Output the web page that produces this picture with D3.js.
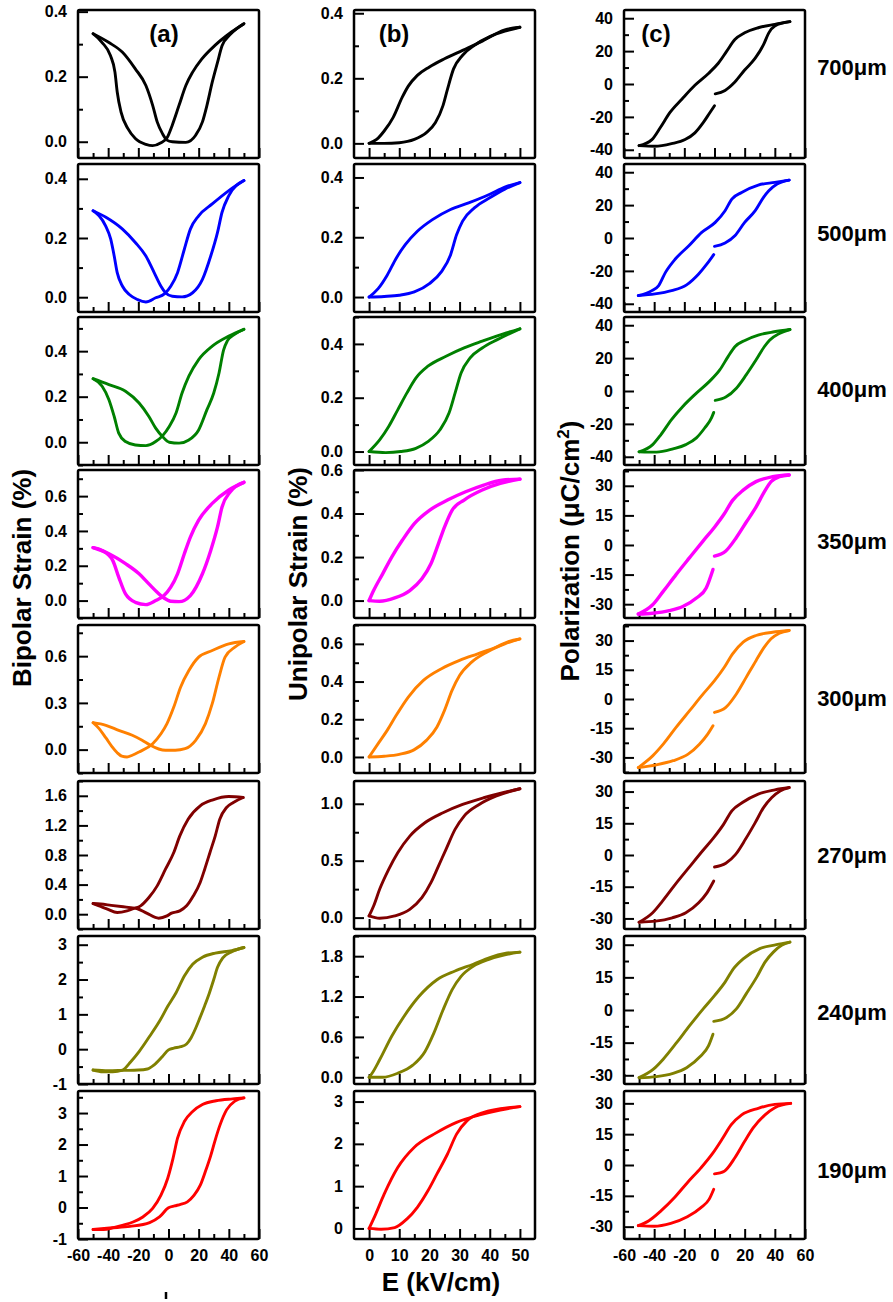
<!DOCTYPE html>
<html>
<head>
<meta charset="utf-8">
<script src="https://cdn.jsdelivr.net/npm/d3@7"></script>
<style>
  body { margin: 0; background: #fff; }
  text { font-family: Arial, "Liberation Sans", sans-serif; font-weight: bold; fill: #000; }
</style>
</head>
<body>
<div id="chart"></div>
<script>
// Sample thickness for each row and its colour
const thicknesses = ['700μm', '500μm', '400μm', '350μm', '300μm', '270μm', '240μm', '190μm'];
const colors = ['#000000', '#0000ff', '#008000', '#ff00ff', '#ff8000', '#800000', '#808000', '#ff0000'];

// Field tick labels (kV/cm)
const bipolarETicks = [-60, -40, -20, 0, 20, 40, 60];
const unipolarETicks = [0, 10, 20, 30, 40, 50];

// Y ranges and label steps, one per row
const bipolarRanges = [[-0.05, 0.405], [-0.05, 0.45], [-0.1, 0.55], [-0.1, 0.75], [-0.15, 0.8], [-0.2, 1.8], [-1, 3.25], [-1, 3.7]];
const bipolarSteps = [0.2, 0.2, 0.2, 0.2, 0.3, 0.4, 1, 1];
const unipolarRanges = [[-0.045, 0.41], [-0.05, 0.445], [-0.05, 0.5], [-0.08, 0.6], [-0.085, 0.7], [-0.1, 1.2], [-0.1, 2.1], [-0.25, 3.25]];
const unipolarSteps = [0.2, 0.2, 0.2, 0.2, 0.2, 0.5, 0.6, 1];
const polarRanges = [[-45, 45], [-45, 45], [-45, 45], [-37, 38], [-38, 38], [-35, 35], [-34, 34], [-36, 36]];
const polarSteps = [20, 20, 20, 15, 15, 15, 15, 15];

// (a) bipolar strain loops [E, strain %]: +50 -> -50 -> +50
const bipolar700 = [[50,0.363],[42,0.338],[31,0.297],[22,0.254],[16,0.214],[11.5,0.173],[7,0.112],[2.5,0.051],[-1,0.012],[-5,-0.003],[-10.5,-0.012],[-15,-0.008],[-22,0.01],[-27,0.041],[-31.5,0.092],[-34,0.153],[-35.5,0.214],[-38.5,0.265],[-44,0.305],[-50,0.332],
  [-39.5,0.305],[-30.5,0.275],[-22,0.224],[-15,0.173],[-10.5,0.112],[-7.5,0.061],[-4,0.025],[-1,0.005],[2.5,0],[11.5,-0.002],[18,0.02],[22.5,0.061],[25.5,0.112],[29,0.183],[32.5,0.244],[35.5,0.295],[41,0.33],[50,0.363]];
const bipolar500 = [[50,0.394],[40,0.36],[29,0.315],[20,0.275],[14.5,0.23],[10.5,0.162],[6,0.083],[1.5,0.037],[-2.5,0.012],[-8.5,-0.002],[-15,-0.016],[-20.5,-0.008],[-26,0.009],[-30.5,0.037],[-34,0.083],[-36,0.139],[-38.3,0.196],[-41.7,0.241],[-46,0.275],[-50,0.292],
  [-41.5,0.27],[-30.5,0.23],[-22,0.185],[-15,0.139],[-9.5,0.083],[-5,0.037],[-2,0.015],[2.5,0.003],[9,0.001],[16,0.015],[22.5,0.06],[28,0.139],[32.5,0.219],[35.5,0.287],[40,0.343],[50,0.394]];
const bipolar400 = [[50,0.496],[40,0.466],[29,0.422],[20,0.363],[13.5,0.29],[9,0.216],[5,0.128],[0.5,0.069],[-4,0.028],[-8.5,0.003],[-15,-0.015],[-22,-0.012],[-28.5,0.003],[-33,0.04],[-36,0.113],[-39.5,0.187],[-44,0.246],[-50,0.279],
  [-39.5,0.253],[-28.5,0.224],[-19.5,0.172],[-13,0.113],[-8.5,0.062],[-4,0.025],[0.5,0],[7,-0.004],[13.5,0.01],[20,0.054],[25.5,0.143],[30,0.216],[33.5,0.304],[36.5,0.405],[39,0.445],[43,0.47],[50,0.496]];
const bipolar350 = [[50,0.679],[40,0.635],[29,0.558],[20,0.462],[14.5,0.365],[10.5,0.269],[6,0.154],[1.5,0.077],[-3,0.029],[-8.5,0],[-15,-0.023],[-22,-0.01],[-28.5,0.038],[-33,0.135],[-37,0.231],[-44,0.288],[-50,0.304],
  [-39.5,0.269],[-28.5,0.212],[-19.5,0.154],[-13,0.096],[-7.5,0.048],[-3,0.015],[1.5,-0.004],[7,-0.006],[14.5,0.029],[22.5,0.154],[28,0.288],[32.5,0.423],[35.5,0.538],[41,0.625],[50,0.679]];
const bipolar300 = [[50,0.694],[40,0.679],[29,0.636],[20,0.594],[13.5,0.508],[8,0.401],[3.5,0.273],[-1,0.167],[-5,0.102],[-10.5,0.038],[-19.5,-0.015],[-24,-0.036],[-27.5,-0.047],[-31,-0.042],[-34,-0.02],[-37.5,0.02],[-41.5,0.075],[-46,0.135],[-50,0.173],
  [-41.5,0.156],[-33,0.124],[-24,0.092],[-17.5,0.06],[-12,0.028],[-6.5,0.004],[-2,-0.004],[4.5,-0.004],[11,0.006],[18,0.06],[24.5,0.167],[29,0.295],[33.5,0.466],[37.5,0.594],[44,0.658],[50,0.694]];
const bipolar270 = [[49.5,1.577],[40,1.59],[29.5,1.546],[21,1.465],[13,1.284],[7.5,1.059],[3.5,0.834],[-2,0.608],[-7.5,0.383],[-13,0.225],[-18.5,0.113],[-23,0.077],[-27.5,0.045],[-34,0.023],[-40.5,0.068],[-46,0.113],[-50,0.144],
  [-45,0.138],[-38,0.12],[-30,0.1],[-25,0.088],[-21,0.077],[-14.5,0.014],[-6.5,-0.054],[-1,-0.023],[2,0.014],[7.5,0.045],[12,0.113],[16.5,0.248],[21,0.428],[24,0.608],[27.5,0.834],[31,1.059],[34,1.284],[38.5,1.442],[43,1.51],[49.5,1.577]];
const bipolar240 = [[50,2.92],[42,2.83],[31,2.76],[22.5,2.64],[16,2.44],[10.5,2.1],[5,1.62],[-0.5,1.23],[-6,0.8],[-12.5,0.37],[-19.5,-0.07],[-25,-0.36],[-30.5,-0.6],[-37,-0.65],[-43.5,-0.65],[-50,-0.6],
  [-40,-0.62],[-30,-0.61],[-20,-0.6],[-14,-0.57],[-9.5,-0.45],[-4,-0.21],[0,-0.02],[3.5,0.03],[8,0.07],[12,0.15],[15,0.33],[18,0.6],[21,0.92],[24,1.25],[27,1.6],[30,2.0],[32.5,2.35],[36,2.62],[42,2.8],[50,2.92]];
const bipolar190 = [[50,3.48],[42.5,3.45],[31.5,3.39],[22.5,3.27],[16,3.05],[10.5,2.73],[6,2.2],[3,1.56],[-0.5,0.93],[-5,0.39],[-10.5,-0.03],[-17,-0.3],[-23.5,-0.46],[-30,-0.56],[-36.5,-0.64],[-43,-0.7],[-50,-0.7],
  [-39,-0.65],[-25.5,-0.6],[-12.5,-0.48],[-6,-0.3],[0,-0.01],[4,0.05],[8,0.1],[12.5,0.18],[17,0.39],[21,0.7],[24.5,1.15],[28,1.65],[31,2.15],[34,2.6],[38.5,3.1],[44,3.38],[50,3.48]];

// (b) unipolar strain loops [E, strain %]: 0 -> +50 -> 0
const unipolar700 = [[0,0],[5,0],[10,0.002],[15,0.012],[19,0.033],[22,0.064],[24.5,0.116],[26,0.167],[28,0.229],[31,0.271],[35,0.302],[40,0.328],[45,0.345],[50,0.357],
  [45,0.349],[37,0.312],[31,0.286],[25,0.26],[20,0.235],[16,0.209],[13,0.176],[11,0.142],[8,0.08],[5,0.038],[2.5,0.012],[0,0]];
const unipolar500 = [[0,0],[5,0.002],[10,0.006],[15,0.017],[20,0.045],[24,0.085],[27,0.141],[29,0.208],[31,0.254],[35,0.299],[40,0.332],[45,0.361],[50,0.383],
  [45,0.368],[40,0.344],[33,0.315],[27,0.293],[21,0.259],[16,0.22],[12,0.175],[9,0.13],[6,0.073],[3,0.028],[0,0]];
const unipolar400 = [[0,0],[5.5,-0.004],[10.5,0],[15.5,0.012],[19.5,0.037],[23.5,0.081],[26.5,0.143],[28.5,0.217],[30.5,0.292],[33.5,0.348],[37.5,0.385],[42.5,0.416],[50,0.456],
  [45.5,0.441],[37.5,0.41],[31.5,0.385],[25.5,0.354],[19.5,0.317],[15.5,0.273],[12.5,0.217],[9.5,0.155],[6.5,0.093],[3.5,0.043],[0,0]];
const unipolar350 = [[0,0],[3.5,-0.003],[8.5,0.012],[13.5,0.046],[17.5,0.1],[20.5,0.169],[23,0.262],[25,0.338],[27.5,0.415],[31.5,0.462],[37.5,0.508],[43.5,0.538],[50,0.558],
  [44,0.553],[38,0.531],[32,0.5],[26,0.462],[20,0.415],[15,0.354],[11,0.277],[7.5,0.2],[4.5,0.123],[1.5,0.046],[0,0]];
const unipolar300 = [[0,0],[5,0.004],[10,0.014],[15,0.039],[19,0.088],[22.5,0.159],[25,0.247],[27.5,0.353],[30,0.432],[34,0.503],[39,0.556],[45,0.6],[50,0.626],
  [46,0.611],[42,0.582],[36,0.547],[30,0.512],[24,0.468],[18,0.406],[13,0.318],[9,0.221],[6,0.141],[3,0.071],[0,0]];
const unipolar270 = [[0,0.015],[3.5,-0.006],[8.5,0.015],[13.5,0.073],[17.5,0.175],[20.5,0.307],[23,0.453],[25.5,0.6],[28.5,0.775],[31.5,0.892],[36.5,0.994],[42,1.067],[50,1.132],
  [45,1.102],[38,1.053],[31,0.994],[24.5,0.921],[18.5,0.833],[13.5,0.716],[9.5,0.57],[6.5,0.424],[3.5,0.249],[1.5,0.102],[0,0.015]];
const unipolar240 = [[0,0],[4.5,0],[9.5,0.06],[14.5,0.18],[18.5,0.38],[21.5,0.66],[24.5,1.0],[27.5,1.3],[30.5,1.5],[34.5,1.65],[39.5,1.75],[45,1.82],[50,1.86],
  [45,1.84],[40,1.78],[34.5,1.68],[28.5,1.58],[22.5,1.45],[16.5,1.2],[11.5,0.9],[7.5,0.61],[3.5,0.26],[1,0.06],[0,0]];
const unipolar190 = [[0,0],[4,-0.02],[8.5,0.02],[12.5,0.22],[16,0.5],[19.5,0.89],[22.5,1.29],[26,1.76],[29,2.23],[32.5,2.55],[37,2.72],[43.5,2.83],[50,2.88],
  [43.5,2.8],[37,2.69],[29,2.51],[21.5,2.23],[15,1.92],[9.5,1.44],[5,0.81],[2.2,0.34],[0,0]];

// (c) polarization loops [E, P (μC/cm²)]: 0 -> +50 -> -50 -> 0
const polar700 = [[0.5,-6],[7,-3.9],[13.5,1.2],[20,8.5],[27,15.7],[32.5,23.9],[36,31.1],[40,35.3],[50,37.9],
  [40,36.3],[29,34.2],[20,31.1],[13.5,27],[8,19.8],[2.5,12.6],[-4,6.4],[-13,-0.8],[-21.5,-9.1],[-29.5,-17.3],[-36,-26.6],[-41.5,-33.8],[-50,-37.5],
  [-39.5,-37.9],[-28.5,-36.3],[-19.5,-33.8],[-13,-29.7],[-7.5,-23.5],[-3,-17.3],[0,-13.2]];
const polar500 = [[0,-5.1],[7,-3],[13.5,1.4],[20,9.5],[27,16.6],[32.5,24.7],[36,28.7],[41.5,32.8],[49.5,35.2],
  [40,33.8],[29,32.2],[18,27.7],[11.5,23.7],[7,16.6],[0.5,9.5],[-8.5,3.4],[-17,-4.7],[-26,-12.8],[-32.5,-20.9],[-37,-28.9],[-41.5,-32],[-50.5,-35],
  [-39.5,-34],[-28.5,-32],[-18.5,-28.5],[-10.5,-21.9],[-5,-15.8],[-0.5,-10.1]];
const polar400 = [[0.5,-5.7],[7.5,-3.7],[14.5,1.7],[21,9.8],[27.5,18.8],[33,26.9],[36.5,30.9],[43,35],[50,37.4],
  [39.5,36],[29,34],[20.5,30.9],[13.5,26.9],[9,20.9],[3.5,12.8],[-3.5,5.7],[-12,-1.3],[-21,-9.4],[-28.5,-17.4],[-35.5,-26.5],[-41,-32.6],[-50,-37],
  [-38.5,-37.2],[-27.5,-35.2],[-19,-32.6],[-12,-28.5],[-6.5,-22.5],[-2,-16.4],[-0.5,-13]];
const polar350 = [[0,-5.6],[7.5,-3],[14.5,3.8],[21,11.5],[27.5,19.2],[33,26.9],[37.5,32.1],[43,34.6],[49.5,35.5],
  [38.5,34.6],[27.5,32.1],[19,27.8],[12,22.6],[6.5,15.8],[0,9],[-7.5,2.1],[-16.5,-6.4],[-25.5,-15],[-34,-23.5],[-41,-30.3],[-50.5,-35],
  [-41,-34.6],[-30,-33.3],[-21,-31.2],[-12,-26.9],[-5.5,-21.8],[-1,-12.4]];
const polar300 = [[0,-6.9],[7.5,-4.3],[14.5,2.6],[21,11.1],[27.5,19.7],[33,26.6],[37.5,30.9],[43,33.8],[49.5,35.2],
  [38.5,34.3],[27.5,32.6],[19,29.2],[12,23.2],[6.5,16.3],[0,9.4],[-7.5,2.6],[-16.5,-6],[-25.5,-14.6],[-34,-23.2],[-41,-29.2],[-50.5,-35.2],
  [-38.5,-33.8],[-27.5,-31.7],[-17.5,-28.3],[-10,-23.2],[-4.5,-18],[-1,-13.7]];
const polar270 = [[0,-5.7],[7.5,-3.9],[14,0.3],[20.5,7.4],[27,15.3],[32.5,22.4],[38,27.2],[43.5,30.3],[49.5,31.9],
  [40,30.8],[29,28.8],[18.5,24.8],[11.5,20.9],[6,14.5],[-0.5,8.2],[-8,1.9],[-17,-6],[-26,-13.9],[-34.5,-21.8],[-41,-27.3],[-50,-31.8],
  [-39,-31.3],[-28,-29.7],[-19,-27.3],[-10.5,-22.6],[-5,-17.9],[-0.5,-12.3]];
const polar240 = [[-0.5,-5.2],[8,-3.4],[14.5,0.5],[21,7.4],[28,15.1],[33.5,22],[39,26.6],[44.5,29.7],[50,31.2],
  [41,30],[30,28.2],[19,23.5],[12.5,18.9],[7,12.8],[0,6.6],[-7.5,0.5],[-16.5,-7.2],[-25,-14.9],[-34,-22.6],[-40.5,-27.2],[-50,-31.1],
  [-38.5,-30.6],[-27.5,-29.1],[-18.5,-26.5],[-9.5,-21.4],[-4,-16.5],[-1,-11.1]];
const polar190 = [[0,-4.3],[6.5,-3],[13.5,3.5],[20,11.5],[25.5,17.9],[33.5,24.4],[40,27.9],[50.5,30],
  [40,29.5],[29,27.6],[18,24.4],[11,19.5],[5.5,13.1],[-1,5.9],[-9,-1.4],[-18,-8.6],[-26.5,-15.8],[-35.5,-22.3],[-43.5,-27.1],[-50.5,-29.5],
  [-40,-29.8],[-29,-28.4],[-18,-25.2],[-9,-20.7],[-3.5,-16.6],[-0.5,-11.8]];

const bipolarSeries = [bipolar700, bipolar500, bipolar400, bipolar350, bipolar300, bipolar270, bipolar240, bipolar190];
const unipolarSeries = [unipolar700, unipolar500, unipolar400, unipolar350, unipolar300, unipolar270, unipolar240, unipolar190];
const polarSeries = [polar700, polar500, polar400, polar350, polar300, polar270, polar240, polar190];

// Layout
const width = 893;
const height = 1302;
const panelW = 181;
const panelH = 148;
const rowTop = [10, 164, 317, 470, 625, 781, 936, 1091];
const labelY = [67, 233, 389, 541, 698, 855, 1012, 1170];

const svg = d3.select('#chart').append('svg')
    .attr('width', width)
    .attr('height', height);

const columns = [
    { left: 78, series: bipolarSeries, ranges: bipolarRanges, steps: bipolarSteps, xTicks: bipolarETicks, pad: 0, tag: '(a)', tagX: 86 },
    { left: 354, series: unipolarSeries, ranges: unipolarRanges, steps: unipolarSteps, xTicks: unipolarETicks, pad: 5, tag: '(b)', tagX: 40 },
    { left: 624, series: polarSeries, ranges: polarRanges, steps: polarSteps, xTicks: bipolarETicks, pad: 0, tag: '(c)', tagX: 32 }
];

// Hyphen instead of the unicode minus
function fmt(step) {
    const f = step < 1 ? d3.format('.1f') : d3.format('d');
    return d => f(d).replace('\u2212', '-');
}

// Multiples of step inside a domain
function multiples(domain, step) {
    const k0 = Math.ceil(domain[0] / step - 1e-9);
    const k1 = Math.floor(domain[1] / step + 1e-9);
    return d3.range(k0, k1 + 1).map(k => +(k * step).toFixed(4));
}

// Split a loop into branches at its field extremes so the tips stay sharp
function branches(points) {
    const cuts = Array.from(new Set([0, d3.maxIndex(points, d => d[0]), d3.minIndex(points, d => d[0]), points.length - 1]))
        .sort((a, b) => a - b);
    return d3.pairs(cuts).map(([a, b]) => points.slice(a, b + 1).sort((p, q) => p[0] - q[0]));
}

columns.forEach(function(col, ci) {
    col.series.forEach(function(points, ri) {
        const g = svg.append('g')
            .attr('transform', `translate(${col.left},${rowTop[ri]})`);

        const x = d3.scaleLinear()
            .domain([col.xTicks[0] - col.pad, col.xTicks[col.xTicks.length - 1] + col.pad])
            .range([0, panelW]);
        const y = d3.scaleLinear()
            .domain(col.ranges[ri])
            .range([panelH, 0]);

        const step = col.steps[ri];
        const yMajor = multiples(y.domain(), step);
        const yMinor = multiples(y.domain(), step / 2).filter(v => !yMajor.some(m => Math.abs(m - v) < 1e-6));
        const xMinor = d3.pairs(col.xTicks).map(([a, b]) => (a + b) / 2);
        const isBottom = ri === col.series.length - 1;

        // Minor and major ticks point into the frame
        g.append('g')
            .call(d3.axisLeft(y).tickValues(yMinor).tickSize(-5).tickFormat(''))
            .call(a => a.select('.domain').remove());
        g.append('g')
            .call(d3.axisLeft(y).tickValues(yMajor).tickSize(-10).tickPadding(11).tickFormat(fmt(step)))
            .call(a => a.select('.domain').remove());
        g.append('g')
            .attr('transform', `translate(0,${panelH})`)
            .call(d3.axisBottom(x).tickValues(xMinor).tickSize(-5).tickFormat(''))
            .call(a => a.select('.domain').remove());
        g.append('g')
            .attr('transform', `translate(0,${panelH})`)
            .call(d3.axisBottom(x).tickValues(col.xTicks).tickSize(-10).tickPadding(11)
                .tickFormat(isBottom ? d => String(d) : ''))
            .call(a => a.select('.domain').remove());

        g.selectAll('.tick line').attr('stroke', '#000').attr('stroke-width', 2);
        g.selectAll('.tick text')
            .attr('font-size', 16)
            .attr('font-family', 'Arial, "Liberation Sans", sans-serif')
            .attr('font-weight', 'bold')
            .attr('fill', '#000');

        // Hysteresis loop, one path per branch
        const line = d3.line()
            .x(d => x(d[0]))
            .y(d => y(d[1]))
            .curve(d3.curveMonotoneX);
        g.selectAll('.loop')
            .data(branches(points))
            .enter().append('path')
            .attr('class', 'loop')
            .attr('d', line)
            .attr('fill', 'none')
            .attr('stroke', colors[ri])
            .attr('stroke-width', ri === 3 ? 3.4 : 2.9)
            .attr('stroke-linejoin', 'round')
            .attr('stroke-linecap', 'round');

        // Frame
        g.append('rect')
            .attr('width', panelW)
            .attr('height', panelH)
            .attr('rx', 1.5)
            .attr('fill', 'none')
            .attr('stroke', '#000')
            .attr('stroke-width', 2.5);

        if (ri === 0) {
            g.append('text')
                .attr('x', col.tagX)
                .attr('y', 24)
                .attr('text-anchor', 'middle')
                .attr('dy', '0.35em')
                .attr('font-size', 24)
                .text(col.tag);
        }
    });
});

// Thickness labels on the right
svg.selectAll('.thick')
    .data(thicknesses)
    .enter().append('text')
    .attr('class', 'thick')
    .attr('x', 852)
    .attr('y', (d, i) => labelY[i])
    .attr('dy', '0.35em')
    .attr('text-anchor', 'middle')
    .attr('font-size', 22)
    .text(d => d);

// Axis titles
function yTitle(cx, cy) {
    return svg.append('text')
        .attr('transform', `translate(${cx},${cy}) rotate(-90)`)
        .attr('text-anchor', 'middle')
        .attr('dy', '0.35em')
        .attr('font-size', 26);
}
yTitle(22, 578).text('Bipolar Strain (%)');
yTitle(298, 584).text('Unipolar Strain (%)');
const pol = yTitle(570, 551);
pol.append('tspan').text('Polarization (μC/cm');
pol.append('tspan').attr('font-size', 17).attr('dy', '-0.6em').text('2');
pol.append('tspan').attr('dy', '0.4em').text(')');

svg.append('text')
    .attr('x', 441)
    .attr('y', 1282)
    .attr('dy', '0.35em')
    .attr('text-anchor', 'middle')
    .attr('font-size', 26)
    .text('E (kV/cm)');

// Small stray mark below column (a)
svg.append('line')
    .attr('x1', 166).attr('x2', 166)
    .attr('y1', 1292).attr('y2', 1299)
    .attr('stroke', '#000')
    .attr('stroke-width', 2.5);
</script>
</body>
</html>
